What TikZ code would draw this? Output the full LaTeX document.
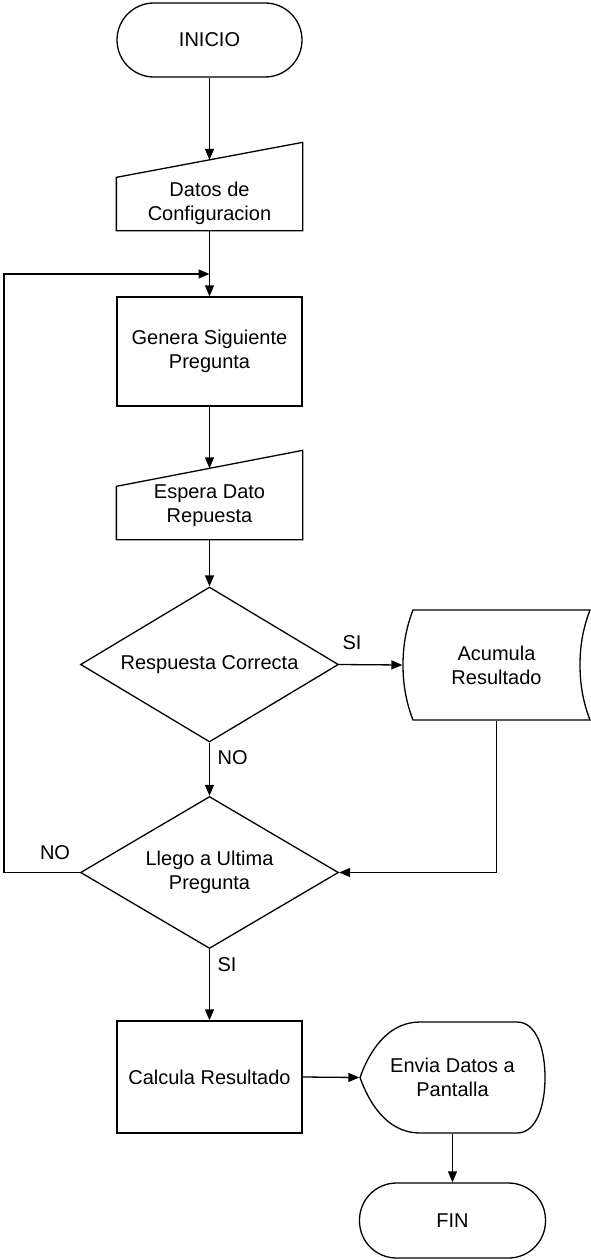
\documentclass[tikz,border=0pt]{standalone}
\usepackage{fontspec}
\setmainfont{Liberation Sans}
\usetikzlibrary{shapes.geometric,arrows.meta,calc}
\begin{document}
\begin{tikzpicture}[x=1pt,y=-1pt,line width=1.3pt,
  every node/.style={font=\fontsize{20}{24}\selectfont, align=center},
  terminal/.style={draw, rounded corners=37pt, minimum width=185pt, minimum height=74pt, inner sep=0pt},
  procbox/.style={draw, minimum width=185pt, inner sep=0pt},
  holder/.style={inner sep=0pt},
  decision/.style={draw, diamond, aspect=1.66, minimum width=258pt, minimum height=155pt, inner sep=0pt},
  lbl/.style={inner sep=0pt},
  arr/.style={-{Triangle[length=11pt,width=9pt]}}
]
\useasboundingbox (0,0) rectangle (591,1260);

% start
\node[terminal] (inicio) at (209.5,40) {INICIO};

% configuration input (manual input shape)
\node[holder, minimum width=185pt, minimum height=87pt] (datos) at (209.5,186.5) {};
\coordinate (datosnw) at ($(datos.north west)+(0,35)$);
\coordinate (datosin) at ($(datosnw)!0.5!(datos.north east)$);
\draw (datos.south west) -- (datos.south east) -- (datos.north east) -- (datosnw) -- cycle;
\node (datostxt) at ([yshift=-17pt]datos.center) {Datos de\\Configuracion};

% loop entry point
\coordinate (loopin) at (209.5,274);

% next question
\node[procbox, minimum height=109pt] (genera) at (209.5,351.5) {Genera Siguiente\\Pregunta};

% answer input (manual input shape)
\node[holder, minimum width=185pt, minimum height=88pt] (espera) at (209.5,495) {};
\coordinate (esperanw) at ($(espera.north west)+(0,36)$);
\coordinate (esperain) at ($(esperanw)!0.5!(espera.north east)$);
\draw (espera.south west) -- (espera.south east) -- (espera.north east) -- (esperanw) -- cycle;
\node (esperatxt) at ([yshift=-11pt]espera.center) {Espera Dato\\Repuesta};

% first decision
\node[decision] (d1) at (209.5,664.5) {Respuesta Correcta};

% stored data
\node[holder, minimum width=187pt, minimum height=110pt] (acum) at (496.5,665) {Acumula\\Resultado};
\draw (413,610) -- (590,610)
  .. controls (583,628) and (580,646) .. (580,665)
  .. controls (580,684) and (583,702) .. (590,720)
  -- (413,720)
  .. controls (406,702) and (403,684) .. (403,665)
  .. controls (403,646) and (406,628) .. (413,610) -- cycle;

% second decision
\node[decision, minimum height=152pt] (d2) at (209.5,872.5) {Llego a Ultima\\Pregunta};

% result
\node[procbox, minimum height=112pt] (calc) at (209.5,1077) {Calcula Resultado};

% display
\node[holder, minimum width=185pt, minimum height=111pt] (envia) at (452.5,1077.5) {Envia Datos a\\Pantalla};
\draw (360,1077.5)
  .. controls (372,1044) and (392,1022) .. (420,1022)
  -- (517,1022)
  .. controls (536,1022) and (545,1048) .. (545,1077.5)
  .. controls (545,1107) and (536,1133) .. (517,1133)
  -- (420,1133)
  .. controls (392,1133) and (372,1111) .. (360,1077.5) -- cycle;

% end
\node[terminal, minimum width=186pt, minimum height=75pt] (fin) at (452.5,1220.5) {FIN};

% connectors
\draw[arr] (inicio.south) -- (datosin);
\draw[arr] (datos.south) -- (genera.north);
\draw[arr] (genera.south) -- (esperain);
\draw[arr] (espera.south) -- (d1.north);
\draw[arr] (d1.east) -- (acum.west);
\draw[arr] (d1.south) -- (d2.north);
\draw[arr] (acum.south) |- (d2.east);
\draw[arr] (d2.west) -- ++(-76,0) |- (loopin);
\draw[arr] (d2.south) -- (calc.north);
\draw[arr] (calc.east) -- (envia.west);
\draw[arr] (envia.south) -- (fin.north);

% branch labels
\node[lbl] (si1) at (352,643) {SI};
\node[lbl, anchor=west] (no1) at (217,758) {NO};
\node[lbl] (no2) at (55,853) {NO};
\node[lbl, anchor=west] (si2) at (217,965) {SI};
\end{tikzpicture}
\end{document}
